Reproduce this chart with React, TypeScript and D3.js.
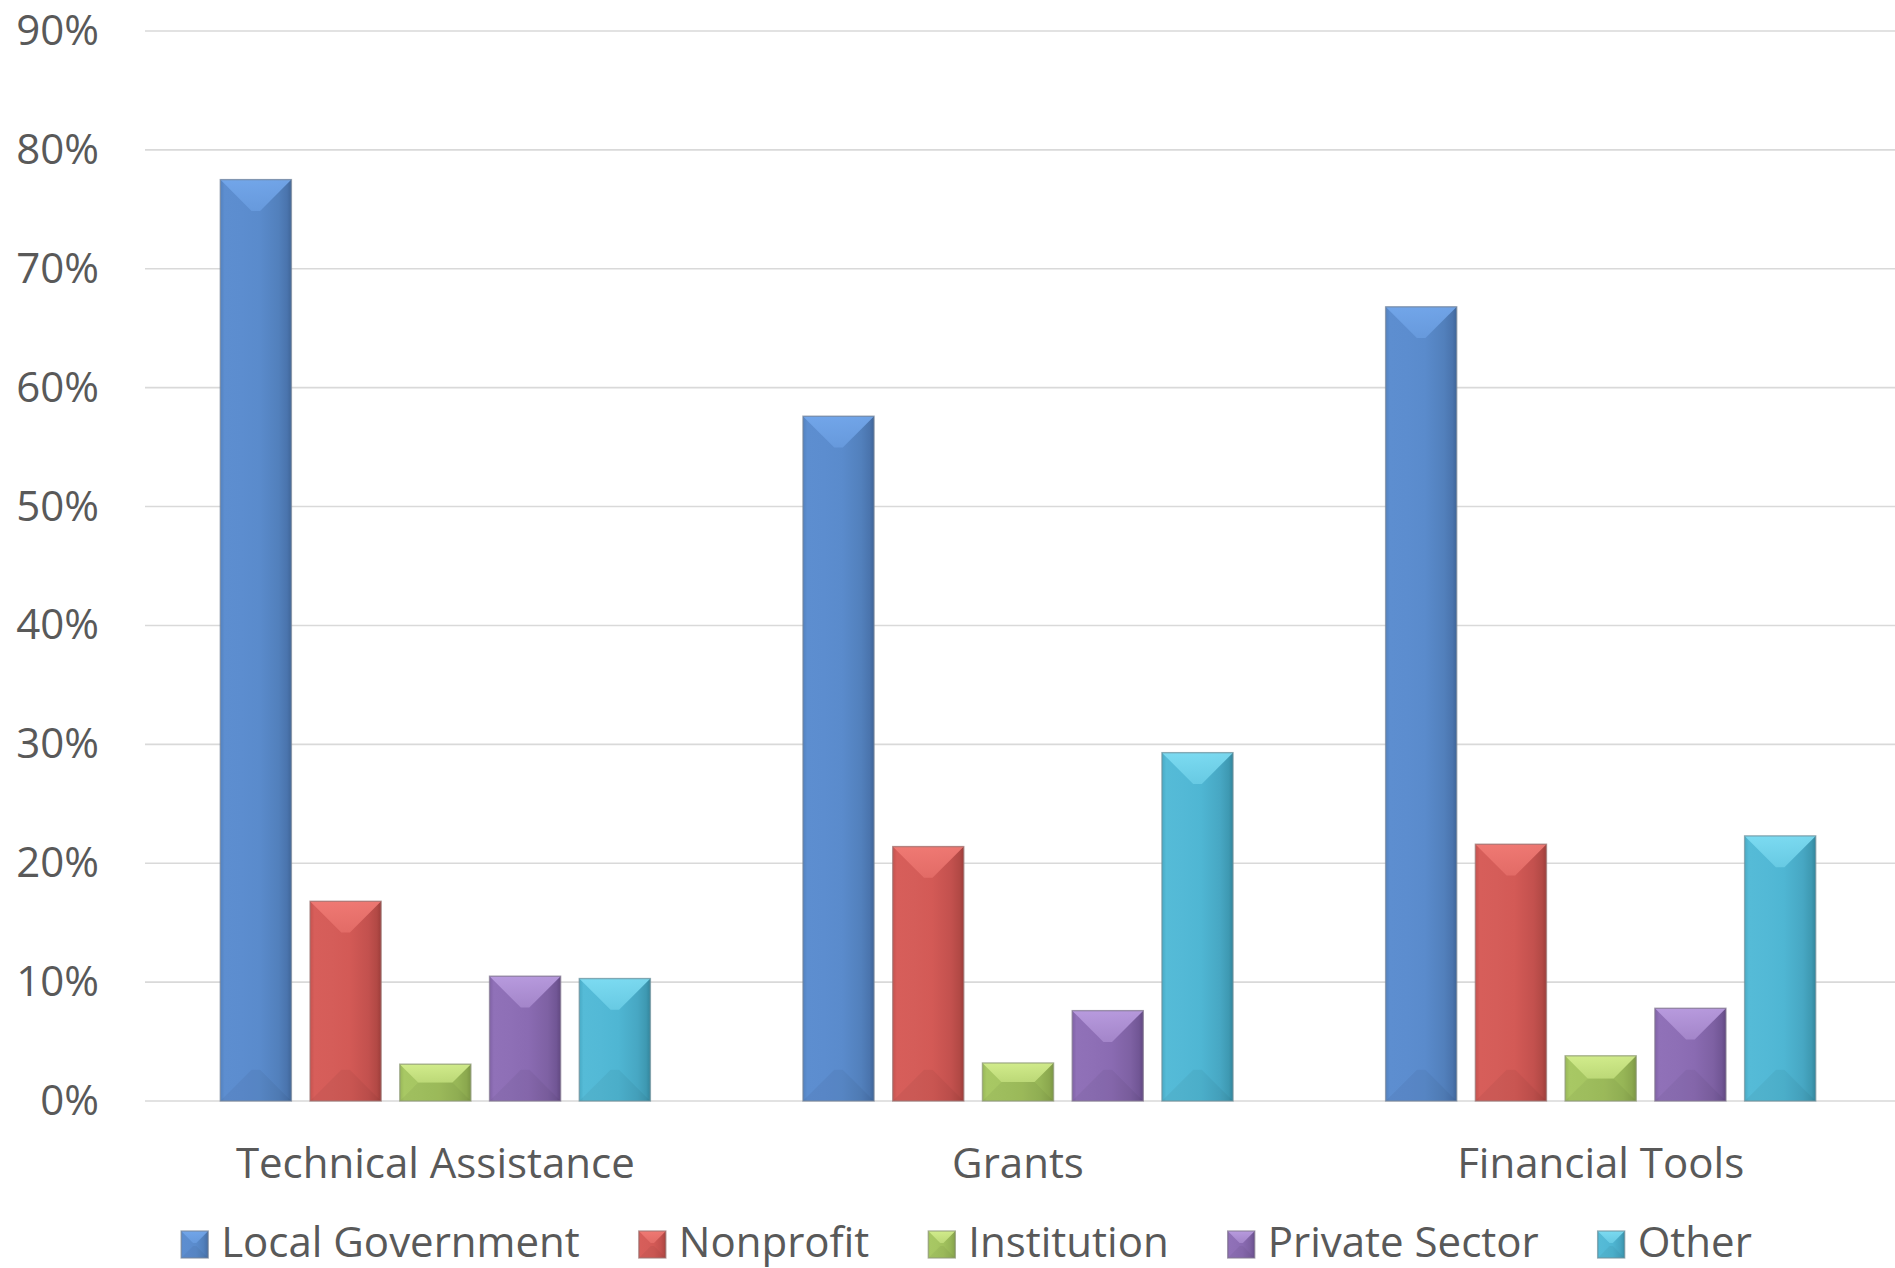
import React, { useEffect, useRef } from "react";
import * as d3 from "d3";

// Chart data (percent of respondents)
const categories = ["Technical Assistance", "Grants", "Financial Tools"];
const seriesNames = ["Local Government", "Nonprofit", "Institution", "Private Sector", "Other"];
const localGovernment = [77.5, 57.6, 66.8];
const nonprofit = [16.8, 21.4, 21.6];
const institution = [3.1, 3.2, 3.8];
const privateSector = [10.5, 7.6, 7.8];
const other = [10.3, 29.3, 22.3];
const yTicks = [0, 10, 20, 30, 40, 50, 60, 70, 80, 90];

const seriesValues = [localGovernment, nonprofit, institution, privateSector, other];

// base / highlight / shade per series
const palette = [
  { base: "#5A8BCC", light: "#74A8EC", dark: "#3F6598" },
  { base: "#D35A56", light: "#F27C76", dark: "#9C3D3A" },
  { base: "#A2C25E", light: "#D6F090", dark: "#7B9644" },
  { base: "#8A6BB2", light: "#BC9FE2", dark: "#614881" },
  { base: "#4FB6D3", light: "#80DEF4", dark: "#33859C" },
];

const W = 1895;
const H = 1268;
const FONT = "'Open Sans', sans-serif";
const TEXT = "#595959";
const FS = 42;

export default function App() {
  const ref = useRef<SVGSVGElement | null>(null);

  useEffect(() => {
    const svg = d3.select(ref.current);
    svg.selectAll("*").remove();

    const plotLeft = 144;
    const plotRight = 1892;
    const y = d3.scaleLinear().domain([0, 90]).range([1101, 31]);
    const x0 = d3.scaleBand<string>().domain(categories).range([plotLeft, plotRight]).padding(0);
    const x1 = d3
      .scaleBand<number>()
      .domain(d3.range(seriesNames.length))
      .range([0, x0.bandwidth()])
      .paddingInner(0.2076)
      .paddingOuter(0.85);

    const defs = svg.append("defs");
    const mix = (a: string, b: string, t: number) => d3.interpolateRgb(a, b)(t);
    palette.forEach((c, i) => {
      const g = defs
        .append("linearGradient")
        .attr("id", `body-${i}`)
        .attr("x1", 0)
        .attr("x2", 1)
        .attr("y1", 0)
        .attr("y2", 0);
      [
        [0, mix(c.base, c.dark, 0.25)],
        [0.06, mix(c.base, c.light, 0.12)],
        [0.3, mix(c.base, c.light, 0.08)],
        [0.55, c.base],
        [0.82, mix(c.base, c.dark, 0.3)],
        [0.94, mix(c.base, c.dark, 0.6)],
        [1, c.dark],
      ].forEach(([o, col]) => g.append("stop").attr("offset", o as number).attr("stop-color", col as string));

      const t = defs
        .append("linearGradient")
        .attr("id", `top-${i}`)
        .attr("x1", 0)
        .attr("x2", 0)
        .attr("y1", 0)
        .attr("y2", 1);
      t.append("stop").attr("offset", 0).attr("stop-color", c.light);
      t.append("stop").attr("offset", 1).attr("stop-color", mix(c.light, c.base, 0.45));
    });

    // gridlines
    svg
      .append("g")
      .selectAll("line")
      .data(yTicks)
      .join("line")
      .attr("x1", plotLeft + 1)
      .attr("x2", W)
      .attr("y1", (d) => y(d))
      .attr("y2", (d) => y(d))
      .attr("stroke", "#D9D9D9")
      .attr("stroke-width", 1.6);

    // y tick labels
    svg
      .append("g")
      .selectAll("text")
      .data(yTicks)
      .join("text")
      .attr("x", 99)
      .attr("y", (d) => y(d) + 14)
      .attr("text-anchor", "end")
      .attr("font-family", FONT)
      .attr("font-size", FS)
      .attr("fill", TEXT)
      .text((d) => `${d}%`);

    // bevelled bar drawing
    const drawBevelBar = (
      g: d3.Selection<SVGGElement, unknown, null, undefined>,
      bx: number,
      by: number,
      bw: number,
      bh: number,
      si: number
    ) => {
      const c = palette[si];
      const d = Math.min(bw * 0.44, bh / 2);
      g.append("rect")
        .attr("x", bx)
        .attr("y", by)
        .attr("width", bw)
        .attr("height", bh)
        .attr("fill", `url(#body-${si})`);
      // bottom bevel (subtle shade)
      g.append("path")
        .attr(
          "d",
          `M${bx},${by + bh}L${bx + bw},${by + bh}L${bx + bw - d},${by + bh - d}L${bx + d},${by + bh - d}Z`
        )
        .attr("fill", "#000")
        .attr("fill-opacity", 0.045);
      // top bevel
      g.append("path")
        .attr("d", `M${bx},${by}L${bx + bw},${by}L${bx + bw - d},${by + d}L${bx + d},${by + d}Z`)
        .attr("fill", `url(#top-${si})`)
        .attr("fill-opacity", 0.9);
      g.append("rect")
        .attr("x", bx)
        .attr("y", by)
        .attr("width", bw)
        .attr("height", bh)
        .attr("fill", "none")
        .attr("stroke", mix(c.dark, "#9a9a9a", 0.6))
        .attr("stroke-opacity", 0.7)
        .attr("stroke-width", 1.4);
    };

    const bars = svg.append("g");
    categories.forEach((cat, ci) => {
      seriesValues.forEach((vals, si) => {
        const g = bars.append("g");
        const bx = (x0(cat) as number) + (x1(si) as number);
        const by = y(vals[ci]);
        drawBevelBar(g, bx, by, x1.bandwidth(), y(0) - by, si);
      });
    });

    // category labels
    svg
      .append("g")
      .selectAll("text")
      .data(categories)
      .join("text")
      .attr("x", (d) => (x0(d) as number) + x0.bandwidth() / 2)
      .attr("y", 1178)
      .attr("text-anchor", "middle")
      .attr("font-family", FONT)
      .attr("font-size", FS)
      .attr("fill", TEXT)
      .text((d) => d);

    // legend
    const legend = svg.append("g");
    const marker = 27;
    const markerGap = 13;
    const itemGap = 59;
    const items = seriesNames.map((name, i) => {
      const g = legend.append("g");
      const t = g
        .append("text")
        .attr("font-family", FONT)
        .attr("font-size", FS)
        .attr("fill", TEXT)
        .attr("y", 1257)
        .text(name);
      const tw = (t.node() as SVGTextElement).getComputedTextLength();
      return { g, t, tw, i };
    });
    const total =
      d3.sum(items, (it) => marker + markerGap + it.tw) + itemGap * (items.length - 1);
    let cx = 966.5 - total / 2;
    items.forEach((it) => {
      const mg = it.g.append("g");
      drawBevelBar(mg as any, cx, 1231, marker, marker, it.i);
      it.t.attr("x", cx + marker + markerGap);
      cx += marker + markerGap + it.tw + itemGap;
    });
  }, []);

  return (
    <svg
      ref={ref}
      width={W}
      height={H}
      style={{ position: "absolute", left: 0, top: 0, background: "#fff" }}
    />
  );
}
